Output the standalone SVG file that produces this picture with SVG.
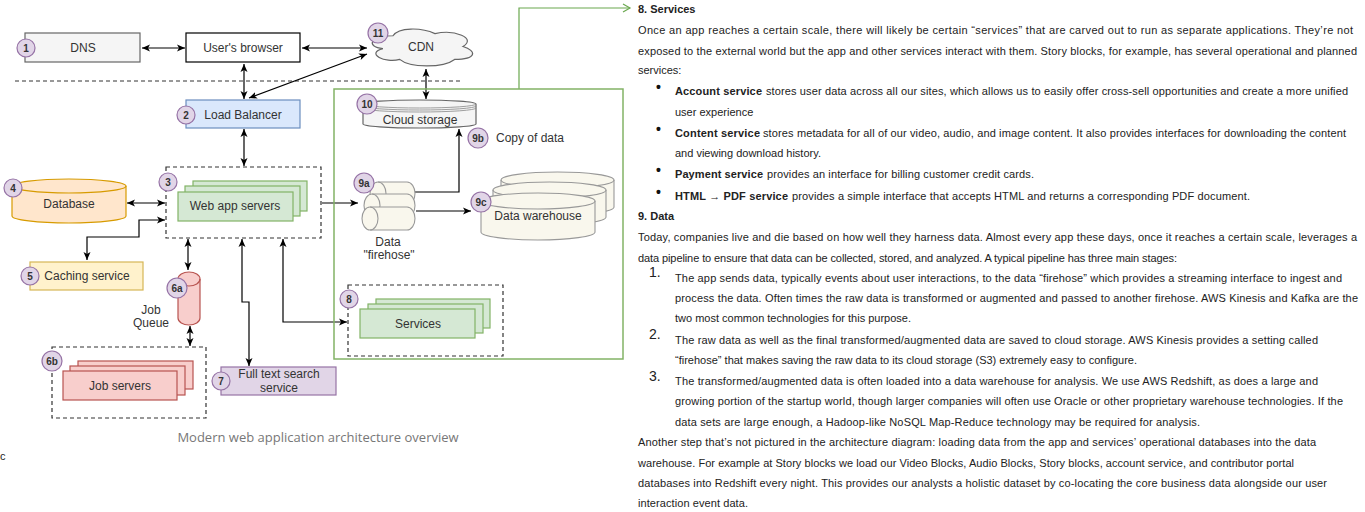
<svg xmlns="http://www.w3.org/2000/svg" width="1365" height="512" viewBox="0 0 1365 512">
<defs>
<marker id="ar" markerUnits="userSpaceOnUse" markerWidth="9" markerHeight="9" refX="8" refY="4" orient="auto-start-reverse" viewBox="0 0 9 9">
<path d="M0,0.5 L8,4 L0,7.5 L2,4 Z" fill="#000"/>
</marker>
<marker id="gar" markerUnits="userSpaceOnUse" markerWidth="10" markerHeight="10" refX="8" refY="5" orient="auto" viewBox="0 0 10 10">
<path d="M1,1 L8,5 L1,9" fill="none" stroke="#6aa84f" stroke-width="1.2"/>
</marker>
</defs>
<style>
text{font-family:"Liberation Sans",Arial,sans-serif}
.lb{font-size:12px;fill:#333;text-anchor:middle;dominant-baseline:central}
.bd{font-size:10px;font-weight:bold;fill:#333;text-anchor:middle;dominant-baseline:central}
.bc{fill:#e1d5e7;stroke:#9673a6;stroke-width:1.2}
.cn{fill:none;stroke:#000;stroke-width:1.2;marker-start:url(#ar);marker-end:url(#ar)}
.c1{fill:none;stroke:#000;stroke-width:1.2;marker-end:url(#ar)}
.dash{fill:#fff;stroke:#333;stroke-width:1.2;stroke-dasharray:4 3}
.grn{fill:#d5e8d4;stroke:#82b366;stroke-width:1.2}
.red{fill:#f8cecc;stroke:#b85450;stroke-width:1.2}
.crm{fill:#f9f7ed;stroke:#999;stroke-width:1.1}
.t{font-size:11px;fill:#222}
.tb{font-size:11px;fill:#222;font-weight:bold}
.bul{font-size:14px;fill:#111;font-weight:bold}
.num{font-size:14px;fill:#222}
</style>
<rect width="1365" height="512" fill="#fff"/>

<g id="connectors">
<line x1="15" y1="81" x2="463" y2="81" stroke="#333" stroke-width="1" stroke-dasharray="4 3"/>
<path class="cn" d="M142,48 H185"/>
<path class="cn" d="M302,48 H367"/>
<path class="cn" d="M244,64 V99"/>
<path class="cn" d="M249,98 L367,54"/>
<path class="cn" d="M244,129 V166"/>
<path class="cn" d="M127,203 H165"/>
<path class="cn" d="M165,220 H139 V237 H87 V260"/>
<path class="cn" d="M188,239 V270"/>
<path class="cn" d="M190,326 V346"/>
<path class="cn" d="M242,239 V302 H249 V366"/>
<path class="cn" d="M283,239 V322 H347"/>
<path class="c1" d="M322,203 H358"/>
<path class="cn" d="M426,69 V99"/>
<path class="c1" d="M415,192 H459 V129"/>
<path class="c1" d="M416,211 H471"/>
<path d="M519,89 V8 H630" fill="none" stroke="#6aa84f" stroke-width="1.2" marker-end="url(#gar)"/>
</g>

<g id="green-container">
<rect x="334" y="89" width="289" height="270" fill="none" stroke="#82b366" stroke-width="1.5"/>
</g>

<g id="dns">
<rect x="25" y="33" width="115" height="29" fill="#f5f5f5" stroke="#666" stroke-width="1.2"/>
<text class="lb" x="83" y="48">DNS</text>
<circle class="bc" cx="26" cy="48" r="9"/><text class="bd" x="26" y="48">1</text>
</g>

<g id="browser">
<rect x="186" y="33" width="114" height="29" fill="#fff" stroke="#000" stroke-width="1.2"/>
<text class="lb" x="243" y="48">User's browser</text>
</g>

<g id="cdn">
<path d="M393,35.75 C370.6,35.75 365,46.5 382.9,48.65 C365,53.4 385.2,63.7 399.7,59.4 C409.8,68 443.4,68 454.6,59.4 C477,59.4 477,50.8 463,46.5 C477,37.9 454.6,29.3 435,33.6 C421,27.15 398.6,27.15 393,35.75 Z" fill="#f5f5f5" stroke="#666" stroke-width="1.2"/>
<text class="lb" x="421" y="47">CDN</text>
<circle class="bc" cx="378" cy="33" r="10"/><text class="bd" x="378" y="33">11</text>
</g>

<g id="load-balancer">
<rect x="186" y="100" width="114" height="28" fill="#dae8fc" stroke="#6c8ebf" stroke-width="1.2"/>
<text class="lb" x="243" y="115">Load Balancer</text>
<circle class="bc" cx="186" cy="115" r="9"/><text class="bd" x="186" y="115">2</text>
</g>

<g id="web-app">
<rect class="dash" x="166" y="167" width="155" height="71"/>
<rect class="grn" x="193" y="181" width="114" height="30"/>
<rect class="grn" x="185" y="186" width="115" height="30"/>
<rect class="grn" x="178" y="192" width="115" height="29"/>
<text class="lb" x="235" y="206">Web app servers</text>
<circle class="bc" cx="168" cy="182" r="9"/><text class="bd" x="168" y="182">3</text>
</g>

<g id="database">
<path d="M12,186 V216 A57,7 0 0 0 126,216 V186 A57,7 0 0 0 12,186 Z" fill="#ffe6cc" stroke="#d79b00" stroke-width="1.2"/>
<path d="M12,186 A57,7 0 0 0 126,186" fill="none" stroke="#d79b00" stroke-width="1.2"/>
<text class="lb" x="69" y="204">Database</text>
<circle class="bc" cx="13" cy="188" r="9"/><text class="bd" x="13" y="188">4</text>
</g>

<g id="caching">
<rect x="30" y="262" width="113" height="28" fill="#fff2cc" stroke="#d6b656" stroke-width="1.2"/>
<text class="lb" x="87" y="276">Caching service</text>
<circle class="bc" cx="30" cy="276" r="9"/><text class="bd" x="30" y="276">5</text>
</g>

<g id="job-queue">
<path class="red" d="M178,279 V318 A11,7 0 0 0 200,318 V279 A11,7 0 0 0 178,279 Z"/>
<path d="M178,279 A11,7 0 0 0 200,279" fill="none" stroke="#b85450" stroke-width="1.2"/>
<text class="lb" x="151" y="310">Job</text>
<text class="lb" x="151" y="323">Queue</text>
<circle class="bc" cx="177" cy="288" r="10"/><text class="bd" x="177" y="288">6a</text>
</g>

<g id="job-servers">
<rect class="dash" x="52" y="347" width="154" height="71"/>
<rect class="red" x="78" y="361" width="115" height="28"/>
<rect class="red" x="70" y="366" width="115" height="29"/>
<rect class="red" x="63" y="371" width="114" height="29"/>
<text class="lb" x="120" y="386">Job servers</text>
<circle class="bc" cx="52" cy="361" r="10"/><text class="bd" x="52" y="361">6b</text>
</g>

<g id="full-text-search">
<rect x="221" y="367" width="115" height="28" fill="#e1d5e7" stroke="#9673a6" stroke-width="1.2"/>
<text class="lb" x="279" y="374">Full text search</text>
<text class="lb" x="279" y="388">service</text>
<circle class="bc" cx="221" cy="381" r="9"/><text class="bd" x="221" y="381">7</text>
</g>

<g id="cloud-storage">
<path d="M363,104 V124 A56.5,4 0 0 0 476,124 V104 A56.5,4 0 0 0 363,104 Z" fill="#f5f5f5" stroke="#666" stroke-width="1.2"/>
<path d="M363,104 A56.5,4 0 0 0 476,104 M363,106 A56.5,4 0 0 0 476,106 M363,108 A56.5,4 0 0 0 476,108" fill="none" stroke="#888" stroke-width="0.8"/>
<text class="lb" x="420" y="120">Cloud storage</text>
<circle class="bc" cx="367" cy="104" r="10"/><text class="bd" x="367" y="104">10</text>
</g>

<g id="copy-label">
<circle class="bc" cx="478" cy="138" r="10"/><text class="bd" x="478" y="138">9b</text>
<text class="lb" x="530" y="138">Copy of data</text>
</g>

<g id="firehose">
<path class="crm" d="M378,182 H407 A8,11.5 0 0 1 407,205 H378 A8,11.5 0 0 1 378,182 Z"/>
<path d="M378,182 A8,11.5 0 0 1 378,205" fill="none" stroke="#999" stroke-width="1.1"/>
<path class="crm" d="M372,194 H407 A8,11.5 0 0 1 407,217 H372 A8,11.5 0 0 1 372,194 Z"/>
<path d="M372,194 A8,11.5 0 0 1 372,217" fill="none" stroke="#999" stroke-width="1.1"/>
<path class="crm" d="M370,207 H407 A8,11.5 0 0 1 407,230 H370 A8,11.5 0 0 1 370,207 Z"/>
<path d="M370,207 A8,11.5 0 0 1 370,230" fill="none" stroke="#999" stroke-width="1.1"/>
<text class="lb" x="388" y="242">Data</text>
<text class="lb" x="389" y="255">"firehose"</text>
<circle class="bc" cx="364" cy="183" r="10"/><text class="bd" x="364" y="183">9a</text>
</g>

<g id="data-warehouse">
<path class="crm" d="M501,180 V207 A56.5,8 0 0 0 614,207 V180 A56.5,8 0 0 0 501,180 Z"/>
<path d="M501,180 A56.5,8 0 0 0 614,180" fill="none" stroke="#999" stroke-width="1.1"/>
<path class="crm" d="M493,190 V217 A56.5,8 0 0 0 606,217 V190 A56.5,8 0 0 0 493,190 Z"/>
<path d="M493,190 A56.5,8 0 0 0 606,190" fill="none" stroke="#999" stroke-width="1.1"/>
<path class="crm" d="M481,201 V232 A57,8 0 0 0 595,232 V201 A57,8 0 0 0 481,201 Z"/>
<path d="M481,201 A57,8 0 0 0 595,201" fill="none" stroke="#999" stroke-width="1.1"/>
<text class="lb" x="538" y="216">Data warehouse</text>
<circle class="bc" cx="481" cy="202" r="10"/><text class="bd" x="481" y="202">9c</text>
</g>

<g id="services">
<rect class="dash" x="348" y="285" width="155" height="71"/>
<rect class="grn" x="376" y="299" width="114" height="29"/>
<rect class="grn" x="368" y="304" width="115" height="29"/>
<rect class="grn" x="360" y="309" width="115" height="29"/>
<text class="lb" x="418" y="324">Services</text>
<circle class="bc" cx="349" cy="299" r="9"/><text class="bd" x="349" y="299">8</text>
</g>

<g id="caption">
<text x="318" y="442" font-size="13" fill="#777" text-anchor="middle" style="font-family:'Open Sans',sans-serif">Modern web application architecture overview</text>
<text x="0" y="460" class="t">c</text>
</g>

<g id="article-text">
<text class="tb" x="638" y="13">8. Services</text>
<text class="t" x="638" y="34" textLength="715">Once an app reaches a certain scale, there will likely be certain “services” that are carved out to run as separate applications. They’re not</text>
<text class="t" x="638" y="55" textLength="719">exposed to the external world but the app and other services interact with them. Story blocks, for example, has several operational and planned</text>
<text class="t" x="638" y="74">services:</text>
<text class="bul" x="656" y="92">•</text>
<text class="tb" x="675" y="95" textLength="87">Account service</text>
<text class="t" x="766" y="95" textLength="582">stores user data across all our sites, which allows us to easily offer cross-sell opportunities and create a more unified</text>
<text class="t" x="675" y="116">user experience</text>
<text class="bul" x="656" y="134">•</text>
<text class="tb" x="675" y="137" textLength="85">Content service</text>
<text class="t" x="763" y="137" textLength="583">stores metadata for all of our video, audio, and image content. It also provides interfaces for downloading the content</text>
<text class="t" x="675" y="157">and viewing download history.</text>
<text class="bul" x="656" y="175">•</text>
<text class="tb" x="675" y="178" textLength="88">Payment service</text>
<text class="t" x="767" y="178" textLength="267">provides an interface for billing customer credit cards.</text>
<text class="bul" x="656" y="197">•</text>
<text class="tb" x="675" y="200" textLength="113">HTML → PDF service</text>
<text class="t" x="792" y="200" textLength="458">provides a simple interface that accepts HTML and returns a corresponding PDF document.</text>
<text class="tb" x="638" y="220">9. Data</text>
<text class="t" x="638" y="241" textLength="719">Today, companies live and die based on how well they harness data. Almost every app these days, once it reaches a certain scale, leverages a</text>
<text class="t" x="638" y="262" textLength="539">data pipeline to ensure that data can be collected, stored, and analyzed. A typical pipeline has three main stages:</text>
<text class="num" x="649" y="277">1.</text>
<text class="t" x="675" y="282" textLength="667">The app sends data, typically events about user interactions, to the data “firehose” which provides a streaming interface to ingest and</text>
<text class="t" x="675" y="302" textLength="683">process the data. Often times the raw data is transformed or augmented and passed to another firehose. AWS Kinesis and Kafka are the</text>
<text class="t" x="675" y="322" textLength="236">two most common technologies for this purpose.</text>
<text class="num" x="649" y="339">2.</text>
<text class="t" x="675" y="344" textLength="643">The raw data as well as the final transformed/augmented data are saved to cloud storage. AWS Kinesis provides a setting called</text>
<text class="t" x="675" y="364" textLength="462">“firehose” that makes saving the raw data to its cloud storage (S3) extremely easy to configure.</text>
<text class="num" x="649" y="381">3.</text>
<text class="t" x="675" y="385" textLength="643">The transformed/augmented data is often loaded into a data warehouse for analysis. We use AWS Redshift, as does a large and</text>
<text class="t" x="675" y="405" textLength="668">growing portion of the startup world, though larger companies will often use Oracle or other proprietary warehouse technologies. If the</text>
<text class="t" x="675" y="426" textLength="525">data sets are large enough, a Hadoop-like NoSQL Map-Reduce technology may be required for analysis.</text>
<text class="t" x="638" y="446" textLength="678">Another step that’s not pictured in the architecture diagram: loading data from the app and services’ operational databases into the data</text>
<text class="t" x="638" y="467" textLength="656">warehouse. For example at Story blocks we load our Video Blocks, Audio Blocks, Story blocks, account service, and contributor portal</text>
<text class="t" x="638" y="487" textLength="689">databases into Redshift every night. This provides our analysts a holistic dataset by co-locating the core business data alongside our user</text>
<text class="t" x="638" y="507" textLength="110">interaction event data.</text>
</g>
</svg>
